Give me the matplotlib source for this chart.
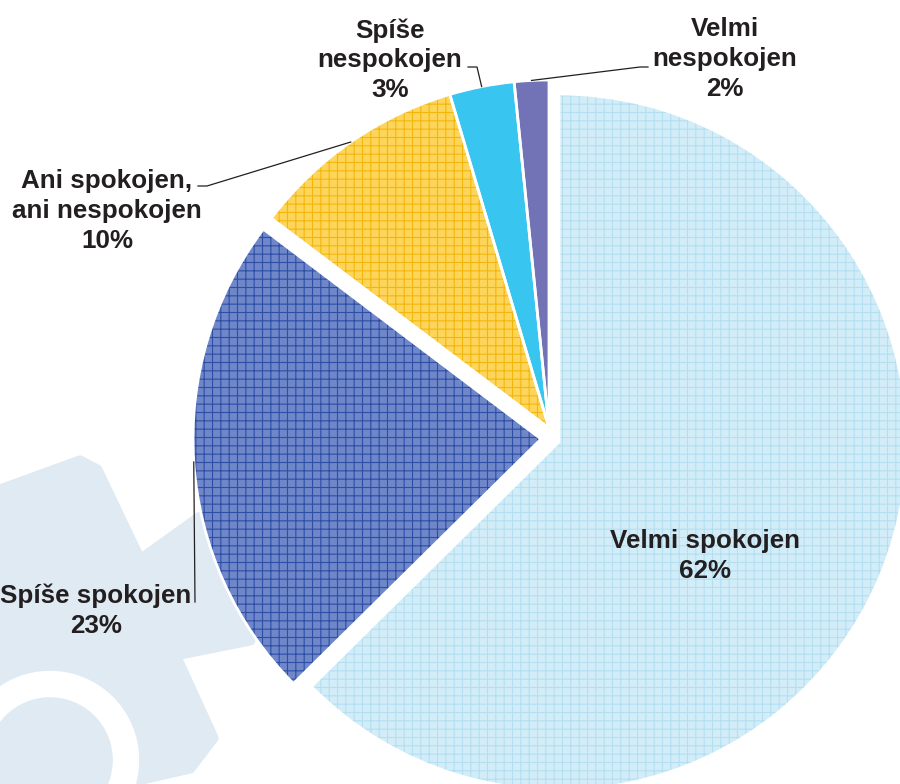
import numpy as np
import matplotlib
matplotlib.use("Agg")
import matplotlib.pyplot as plt
from matplotlib.patches import Polygon, Circle

# data
categories = ["Velmi spokojen", "Spíše spokojen", "Ani spokojen,\nani nespokojen",
              "Spíše\nnespokojen", "Velmi\nnespokojen"]
shares = [62.6, 22.7, 10.1, 3.0, 1.6]
pct_labels = ["62%", "23%", "10%", "3%", "2%"]

face_colors = ["#d3edf8", "#6f87c9", "#fdd55a", "#38c6f1", "#7272b6"]
hatch_colors = ["#b3dff1", "#2d4ea6", "#f3b70c", None, None]

W, H = 900, 784
plt.rcParams["hatch.linewidth"] = 0.8

fig = plt.figure(figsize=(9, 7.84), dpi=100)
ax = fig.add_axes([0, 0, 1, 1])

# pixel layout (y grows downward, axis is inverted below)
PIE_CENTER = (549, 428)
RADIUS = 348
shifts = [(10, 14), (-8, 11), (0, 0), (0, 0), (0, 0)]


def pie_layer(**wprops):
    wedges, _ = ax.pie(shares, startangle=-90, counterclock=True,
                       center=PIE_CENTER, radius=RADIUS, wedgeprops=wprops)
    for w, (dx, dy) in zip(wedges, shifts):
        w.set_center((PIE_CENTER[0] + dx, PIE_CENTER[1] + dy))
    return wedges


# faint watermark in the background
wm = "#dfeaf3"
mark = Polygon([(0, 490), (80, 461), (97, 470), (140, 560), (200, 517), (250, 560),
                (250, 640), (175, 655), (213, 738), (190, 768), (120, 784), (0, 784)],
               closed=True, facecolor=wm, edgecolor=wm, lw=8,
               joinstyle="round", zorder=0)
ax.add_patch(mark)
ax.add_patch(Circle((50, 760), 76, fill=False, edgecolor="white", lw=19, zorder=0.5))

# fill, grid pattern, then white outlines
wedges = pie_layer(linewidth=0)
for w, c in zip(wedges, face_colors):
    w.set_facecolor(c)

hatched = pie_layer(fill=False, linewidth=0)
for w, hc in zip(hatched, hatch_colors):
    if hc is None:
        w.set_visible(False)
    else:
        w.set_hatch("++")
        w.set_edgecolor(hc)

pie_layer(fill=False, edgecolor="white", linewidth=2)


def rim_point(w):
    th = np.deg2rad((w.theta1 + w.theta2) / 2)
    cx, cy = w.center
    return cx + w.r * np.cos(th), cy + w.r * np.sin(th)


label_xy = [(705, 556), (96, 611), (107, 211), (390, 60), (725, 59)]
leader_pts = [None, [(195, 602)], [(198, 186), (207, 186)],
              [(468, 67), (477, 67)], [(648, 67), (640, 67)]]

for i, w in enumerate(wedges):
    x, y = label_xy[i]
    ax.text(x, y, f"{categories[i]}\n{pct_labels[i]}", ha="center", va="center",
            fontsize=18.7, fontweight="bold", color="#231f20",
            family="Liberation Sans", linespacing=1.3, zorder=5)
    if leader_pts[i] is not None:
        pts = leader_pts[i] + [rim_point(w)]
        xs, ys = zip(*pts)
        ax.plot(xs, ys, color="#231f20", lw=0.9, zorder=4)

ax.set_xlim(0, W)
ax.set_ylim(H, 0)
ax.axis("off")

fig.savefig("out.png", dpi=100)
